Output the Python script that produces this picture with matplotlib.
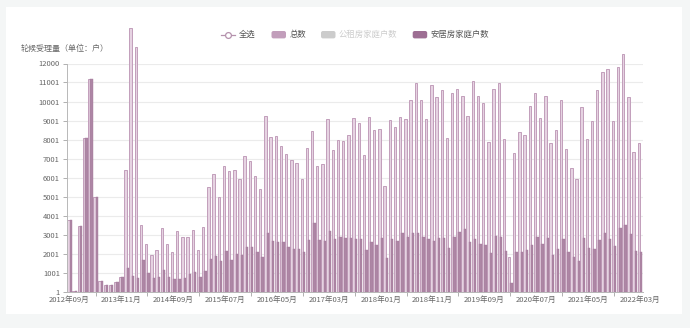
import numpy as np
import matplotlib.pyplot as plt
from matplotlib.patches import Rectangle, FancyBboxPatch

plt.rcParams['font.family'] = ['Noto Sans CJK SC', 'DejaVu Sans']

# 月份（前十个月份数据不连续）
early_months = ['2012年09月', '2012年10月', '2012年11月', '2012年12月', '2013年01月',
                '2013年02月', '2013年06月', '2013年08月', '2013年09月', '2013年10月']
later_months = []
y, m = 2013, 11
while (y, m) <= (2022, 3):
    later_months.append(f'{y}年{m:02d}月')
    m += 1
    if m > 12:
        y, m = y + 1, 1
months = early_months + later_months

# 总数
total = [3750, 40, 3430, 8070, 11170, 4960, 580, 330, 340, 530,
         770, 6400, 13860, 12890, 3520, 2500, 1940, 2190, 3350, 2520,
         2110, 3170, 2870, 2870, 3260, 2190, 3400, 5480, 6200, 4970,
         6630, 6350, 6420, 5910, 7120, 6890, 6090, 5390, 9250, 8160,
         8190, 7670, 7250, 6930, 6790, 5950, 7540, 8470, 6610, 6740,
         9100, 7460, 7980, 7950, 8260, 9140, 8890, 7190, 9210, 8490,
         8580, 5560, 9020, 8650, 9180, 9090, 10070, 11000, 10070, 9090,
         10860, 10250, 10610, 8070, 10440, 10650, 10300, 9250, 11100, 10300,
         9910, 7880, 10680, 11000, 8040, 1840, 7320, 8390, 8260, 9740,
         10460, 9160, 10300, 7810, 8510, 10090, 7490, 6490, 5950, 9700,
         8050, 9000, 10610, 11560, 11700, 8980, 11810, 12510, 10260, 7370,
         7810]

# 安居房家庭户数
anju = [3750, 40, 3430, 8070, 11170, 4960, 580, 330, 340, 530,
        770, 1240, 840, 740, 1680, 970, 720, 770, 1140, 760,
        690, 660, 740, 910, 1060, 750, 1080, 1700, 1880, 1590,
        2140, 1670, 1965, 1930, 2330, 2330, 2090, 1840, 3070, 2670,
        2610, 2600, 2330, 2260, 2260, 2070, 2720, 3600, 2720, 2670,
        3190, 2770, 2860, 2820, 2820, 2790, 2790, 2210, 2600, 2470,
        2840, 1750, 2770, 2670, 3100, 2890, 3100, 3070, 2860, 2750,
        2680, 2820, 2840, 2280, 2890, 3120, 3280, 2610, 2750, 2510,
        2470, 2020, 2930, 2890, 2140, 440, 2070, 2090, 2190, 2470,
        2890, 2510, 2820, 1930, 2230, 2770, 2070, 1820, 1610, 2820,
        2300, 2260, 2700, 3070, 2790, 2390, 3370, 3510, 3040, 2120,
        2100]

yticks = [1] + [1001 + 1000 * i for i in range(11)] + [12000]

W, H = 690, 328
fig = plt.figure(figsize=(W / 100, H / 100), dpi=100)
fig.patch.set_facecolor('#f4f6f6')

# 白色卡片背景，坐标按像素
bg = fig.add_axes([0, 0, 1, 1], zorder=-5)
bg.set_xlim(0, W)
bg.set_ylim(H, 0)
bg.axis('off')
bg.add_patch(Rectangle((6, 7), 676, 307, facecolor='white', edgecolor='none'))

ax = fig.add_axes([67 / W, 1 - 291.7 / H, 575.5 / W, 228.2 / H])
ax.set_facecolor('none')

x = np.arange(len(total))
ax.bar(x - 0.23, total, width=0.46, color='#e6d3e2', edgecolor='#c29ebb',
       linewidth=0.7, clip_on=False, zorder=2)
ax.bar(x + 0.23, anju, width=0.46, color='#ad86a5', edgecolor='#a47a9b',
       linewidth=0.3, clip_on=False, zorder=2)

ax.set_xlim(-0.5, len(total) - 0.5)
ax.set_ylim(1, 12000)
ax.set_yticks(yticks)
ax.set_yticklabels([str(v) for v in yticks], fontsize=5.5, color='#666666')
ax.yaxis.grid(True, color='#ebebeb', linewidth=0.8, zorder=0)
ax.set_axisbelow(True)

label_idx = list(range(0, len(total), 10))
ax.set_xticks(label_idx)
ax.set_xticklabels([months[i] for i in label_idx], fontsize=5.5, color='#666666')
ax.set_xticks(list(range(5, len(total), 10)), minor=True)
ax.tick_params(axis='x', which='major', length=0, pad=3)
ax.tick_params(axis='x', which='minor', length=3, color='#b0b0b0', width=0.7)
ax.tick_params(axis='y', length=3, color='#b0b0b0', width=0.7, pad=2)

for s in ['top', 'right']:
    ax.spines[s].set_visible(False)
for s in ['left', 'bottom']:
    ax.spines[s].set_color('#b8b8b8')
    ax.spines[s].set_linewidth(0.7)

# 纵轴标题
bg.text(21, 49, '轮候受理量（单位：户）', fontsize=5.8,
        color='#666666', va='center', ha='left')

# 图例
ly = 34.7
bg.plot([221, 235], [ly, ly], color='#b592ad', linewidth=0.9)
bg.plot([228], [ly], marker='o', markersize=4.2, markerfacecolor='white',
        markeredgecolor='#b592ad', markeredgewidth=0.9)
bg.text(239, ly, '全选', fontsize=6, color='#555555', va='center')

legend_items = [(271.5, '总数', '#c29ebb', '#555555'),
                (321, '公租房家庭户数', '#cccccc', '#cccccc'),
                (412.7, '安居房家庭户数', '#9d6e93', '#555555')]
for lx, txt, fc, tc in legend_items:
    bg.add_patch(FancyBboxPatch((lx, ly - 3.7), 14.5, 7.4,
                                boxstyle='round,pad=0,rounding_size=2',
                                facecolor=fc, edgecolor='none'))
    bg.text(lx + 18, ly, txt, fontsize=6, color=tc, va='center')

fig.savefig('out.png', dpi=100, facecolor=fig.get_facecolor())
